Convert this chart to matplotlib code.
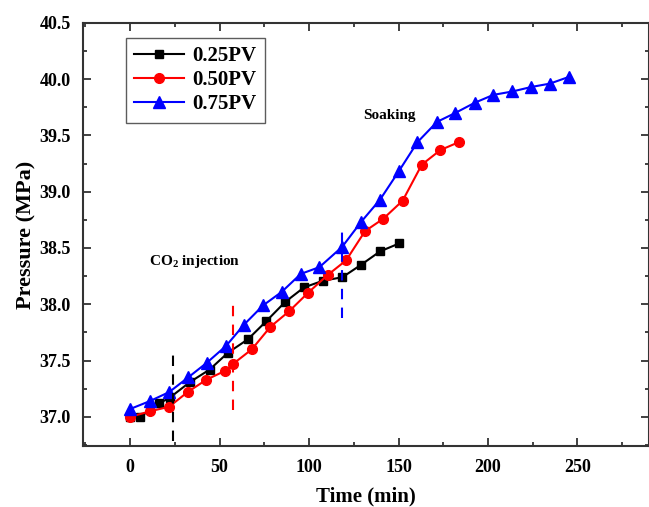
import matplotlib
matplotlib.use("Agg")
import matplotlib.pyplot as plt
from matplotlib.ticker import MultipleLocator

plt.rcParams['font.family'] = ['Liberation Serif', 'DejaVu Serif']
plt.rcParams['font.weight'] = 'bold'
plt.rcParams['mathtext.fontset'] = 'custom'
plt.rcParams['mathtext.rm'] = 'Liberation Serif:bold'

# Data
t_025 = [0, 5.6, 16.2, 22.1, 33.5, 44.4, 54.7, 65.9, 76.1, 86.6, 97.2, 107.9, 118.6, 129.0, 139.7, 150.3]
p_025 = [37.0, 37.0, 37.12, 37.17, 37.31, 37.42, 37.57, 37.69, 37.85, 38.02, 38.15, 38.21, 38.24, 38.35, 38.47, 38.54]

t_050 = [0, 11.2, 21.8, 32.1, 42.6, 53.2, 57.5, 68.0, 78.4, 89.0, 99.3, 110.4, 120.7, 131.3, 141.5, 152.3, 163.0, 173.4, 183.7]
p_050 = [37.0, 37.05, 37.09, 37.22, 37.33, 37.41, 37.47, 37.60, 37.80, 37.94, 38.10, 38.26, 38.39, 38.65, 38.76, 38.92, 39.24, 39.37, 39.44]

t_075 = [0, 11.0, 21.8, 32.4, 42.8, 53.6, 63.7, 74.3, 84.7, 95.4, 105.8, 118.5, 129.0, 139.7, 150.1, 160.6, 171.5, 181.8, 192.6, 203.0, 213.6, 224.2, 234.6, 245.3]
p_075 = [37.07, 37.14, 37.22, 37.35, 37.48, 37.63, 37.82, 37.99, 38.11, 38.27, 38.33, 38.51, 38.73, 38.93, 39.18, 39.44, 39.62, 39.70, 39.79, 39.86, 39.89, 39.93, 39.96, 40.02]

labels = ['0.25PV', '0.50PV', '0.75PV']

# End-of-injection markers (time, y from, y to)
inj_end_t = [24.0, 57.5, 118.4]
inj_end_y0 = [36.79, 37.06, 37.88]
inj_end_y1 = [37.57, 38.02, 38.68]

fig = plt.figure(figsize=(6.49, 5.07), dpi=100)
ax = fig.add_axes([0.128, 0.120, 0.872, 0.835])

ax.plot(t_025, p_025, color='black', marker='s', markersize=6, linewidth=1.5, label=labels[0])
ax.plot(t_050, p_050, color='#ff0000', marker='o', markersize=7, linewidth=1.5, label=labels[1])
ax.plot(t_075, p_075, color='#0000ff', marker='^', markersize=8, linewidth=1.5, label=labels[2])

for t, y0, y1, c in zip(inj_end_t, inj_end_y0, inj_end_y1, ['black', '#ff0000', '#0000ff']):
    ax.plot([t, t], [y0, y1], color=c, linestyle=(0, (5, 4)), linewidth=1.5)

ax.text(36.3, 38.38, r'CO$_2$ injection', ha='center', va='center', fontsize=11, fontweight='bold')
ax.text(145, 39.68, 'Soaking', ha='center', va='center', fontsize=11, fontweight='bold')

ax.set_xlim(-26.3, 290)
ax.set_ylim(36.74, 40.5)
ax.xaxis.set_major_locator(MultipleLocator(50))
ax.xaxis.set_minor_locator(MultipleLocator(25))
ax.yaxis.set_major_locator(MultipleLocator(0.5))
ax.yaxis.set_minor_locator(MultipleLocator(0.25))
ax.yaxis.set_major_formatter(matplotlib.ticker.FormatStrFormatter('%.1f'))
ax.tick_params(which='both', direction='in', top=True, right=True, colors='#333333',
               labelcolor='black', labelsize=13, width=1.3)
ax.tick_params(which='major', length=6, pad=9)
ax.tick_params(which='minor', length=3)
for lab in ax.get_xticklabels() + ax.get_yticklabels():
    lab.set_fontweight('bold')
for s in ax.spines.values():
    s.set_linewidth(1.5)
    s.set_color('#333333')

ax.set_xlabel('Time (min)', fontsize=15, fontweight='bold', labelpad=8)
ax.set_ylabel('Pressure (MPa)', fontsize=16, fontweight='bold', labelpad=2)

leg = ax.legend(loc='upper left', bbox_to_anchor=(0.076, 0.965), fontsize=15, frameon=True,
                fancybox=False, edgecolor='#333333', handlelength=2.4, borderaxespad=0,
                labelspacing=0.2, handletextpad=0.4, borderpad=0.4)
leg.get_frame().set_linewidth(1.0)
for txt in leg.get_texts():
    txt.set_fontweight('bold')

fig.savefig('out.png', dpi=100)
